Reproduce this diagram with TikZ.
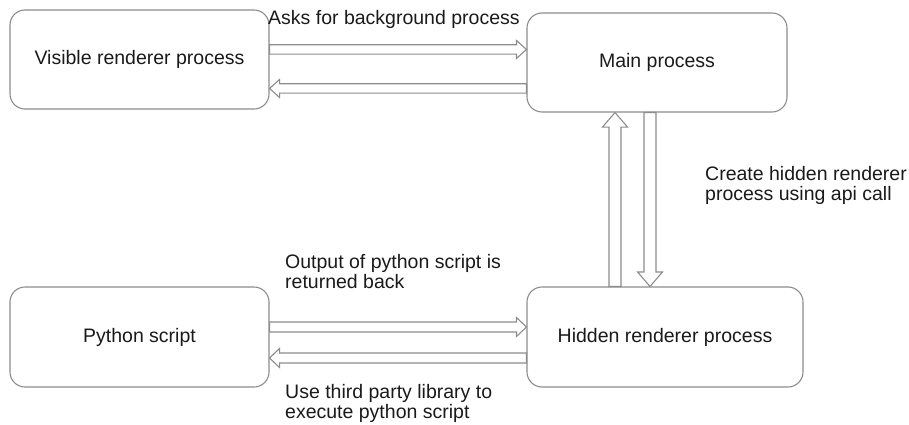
\documentclass[tikz,border=0pt]{standalone}
\usepackage{fontspec}
\setmainfont{Liberation Sans}
\usetikzlibrary{calc}

\definecolor{linegray}{HTML}{8C8C8C}
\definecolor{ink}{HTML}{1A1A1A}

% Outlined block arrow from #1 to #2: shaft half-width #3, head half-width #4, head length #5
\newcommand\flowarrow[5]{%
  \coordinate (fa-h) at ($(#2)!#5!(#1)$);
  \draw[arrowbody] ($(#1)!#3!90:(#2)$) -- ($(fa-h)!#3!90:(#2)$) -- ($(fa-h)!#4!90:(#2)$)
    -- (#2) -- ($(fa-h)!#4!-90:(#2)$) -- ($(fa-h)!#3!-90:(#2)$) -- ($(#1)!#3!-90:(#2)$) -- cycle;
}

\tikzset{
  labelfont/.style={font=\fontsize{19.5}{20}\selectfont, text=ink},
  proc/.style={draw=linegray, line width=1.1pt, rounded corners=15pt,
    minimum width=#1, minimum height=99pt, inner sep=0pt, labelfont},
  note/.style={anchor=north west, inner sep=0pt, align=left, labelfont},
  arrowbody/.style={draw=linegray, line width=1.1pt, line join=miter},
}

\begin{document}
\begin{tikzpicture}[x=1pt, y=-1pt]
  \useasboundingbox (0,0) rectangle (909,425);

  % process boxes
  \node[proc=259pt] (vis)  at (139.5,59.5) {Visible renderer process};
  \node[proc=260pt] (main) at (657,62.5)   {Main process};
  \node[proc=276pt, minimum height=100pt] (hid) at (665,337) {Hidden renderer process};
  \node[proc=259pt, minimum height=100pt] (py)  at (139.5,337) {Python script};

  % arrow end points on the box borders
  \coordinate (a1s) at ($(vis.east)+(0,-10)$);
  \coordinate (a1e) at (main.west |- a1s);
  \coordinate (a2s) at ($(main.west)+(0,26)$);
  \coordinate (a2e) at (vis.east |- a2s);
  \coordinate (a3s) at ($(hid.north)+(-50,0)$);
  \coordinate (a3e) at (main.south -| a3s);
  \coordinate (a4s) at ($(main.south)+(-7,0)$);
  \coordinate (a4e) at (hid.north -| a4s);
  \coordinate (a5s) at ($(py.east)+(0,-10)$);
  \coordinate (a5e) at (hid.west |- a5s);
  \coordinate (a6s) at ($(hid.west)+(0,21)$);
  \coordinate (a6e) at (py.east |- a6s);

  % connectors
  \flowarrow{a1s}{a1e}{4.7pt}{9pt}{10pt}
  \flowarrow{a2s}{a2e}{4.7pt}{9pt}{10pt}
  \flowarrow{a3s}{a3e}{6pt}{12.5pt}{14.5pt}
  \flowarrow{a4s}{a4e}{6pt}{12.5pt}{14.5pt}
  \flowarrow{a5s}{a5e}{5pt}{9.5pt}{10pt}
  \flowarrow{a6s}{a6e}{5pt}{9.5pt}{10pt}

  % connector labels
  \node[labelfont, anchor=base west, inner sep=0pt] (l1) at (268,25) {Asks for background process};
  \node[note] (l2) at (705,166) {Create hidden renderer\\process using api call};
  \node[note] (l3) at (285,254) {Output of python script is\\returned back};
  \node[note] (l4) at (285,384) {Use third party library to\\execute python script};
\end{tikzpicture}
\end{document}
